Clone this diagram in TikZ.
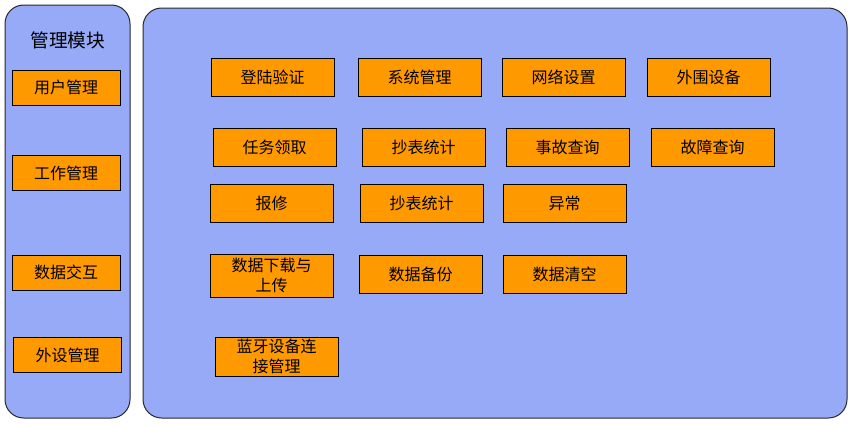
\documentclass[tikz,border=0pt]{standalone}
\usepackage{fontspec}
\setmainfont{Noto Sans CJK SC}
\tikzset{every picture/.style={line width=0.75pt}}
\definecolor{panelblue}{RGB}{150,170,248}
\definecolor{boxorange}{RGB}{255,153,0}
\tikzset{
  panel/.style={draw={rgb,255:red,40;green,40;blue,40},fill=panelblue,rounded corners=14pt},
  modbox/.style={draw=black,fill=boxorange,minimum width=92.25pt,minimum height=28.5pt,inner sep=0pt,font=\fontsize{12}{13}\selectfont,align=center},
  sidebox/.style={modbox,minimum width=81pt,minimum height=26.25pt}
}
\begin{document}
\begin{tikzpicture}[x=0.75pt,y=0.75pt,yscale=-1,xscale=1]
\useasboundingbox (0,0) rectangle (854,426);

%Shape: Panels
\draw [panel] (5,5) rectangle (130,418) ;
\draw [panel] (143,8) rectangle (847,418) ;

% Left column
\node (title) at (68,40) {\fontsize{14}{16}\selectfont 管理模块};
\node [sidebox] (user) at (66,87.5) {用户管理};
\node [sidebox] (work) at (66,173) {工作管理};
\node [sidebox] (data) at (66,272.5) {数据交互};
\node [sidebox] (periph) at (67.5,355) {外设管理};

% Row 1
\node [modbox] (login) at (272.5,77.5) {登陆验证};
\node [modbox] (sysmgr) at (419.5,77.5) {系统管理};
\node [modbox] (netset) at (563.5,77.5) {网络设置};
\node [modbox] (outdev) at (708.5,77.5) {外围设备};
% Row 2
\node [modbox] (task) at (274.5,147) {任务领取};
\node [modbox] (meterA) at (423.5,147) {抄表统计};
\node [modbox] (accident) at (567.5,147) {事故查询};
\node [modbox] (fault) at (712.5,147) {故障查询};
% Row 3
\node [modbox] (repair) at (271.5,203.5) {报修};
\node [modbox] (meterB) at (421.5,203.5) {抄表统计};
\node [modbox] (abnormal) at (564.5,203.5) {异常};
% Row 4
\node [modbox,minimum height=32.25pt,font=\fontsize{12}{15}\selectfont] (download) at (271.5,275.5) {数据下载与\\上传};
\node [modbox] (backup) at (420.5,274) {数据备份};
\node [modbox] (clear) at (564.5,274) {数据清空};
% Row 5
\node [modbox,minimum height=29.25pt,font=\fontsize{12}{15}\selectfont] (bluetooth) at (276.5,356.5) {蓝牙设备连\\接管理};

\end{tikzpicture}
\end{document}
